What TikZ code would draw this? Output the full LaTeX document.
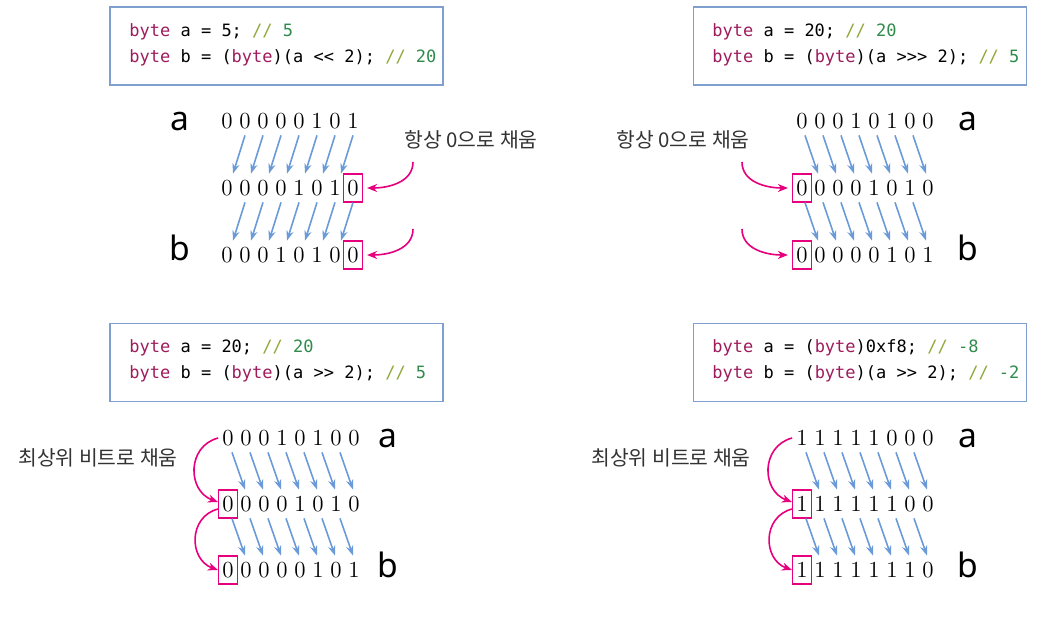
\documentclass[tikz,border=0pt]{standalone}
\usepackage{fontspec}
\newfontfamily\krfont{Noto Sans CJK KR}
\newfontfamily\codefont{DejaVu Sans Mono}
\newfontfamily\varfont{Noto Sans}
\usetikzlibrary{arrows.meta,calc,positioning}
\definecolor{boxblue}{HTML}{7F9FCF}
\definecolor{arrowblue}{HTML}{6A9BD8}
\definecolor{fillpink}{HTML}{E6007E}
\definecolor{kwred}{HTML}{9E1B5C}
\definecolor{cmgreen}{HTML}{2E8B4A}
\definecolor{slashgreen}{HTML}{8FA83A}
\newcommand{\kw}[1]{\textcolor{kwred}{#1}}
\newcommand{\cm}[1]{\textcolor{slashgreen}{//} \textcolor{cmgreen}{#1}}
\tikzset{
  codebox/.style={draw=boxblue,line width=0.7pt,minimum width=166.5pt,minimum height=39pt},
  codeline/.style={anchor=west,align=left,inner sep=0pt,font=\codefont\fontsize{8.5}{13}\selectfont},
  bit/.style={minimum width=9.5pt,minimum height=14pt,inner sep=0pt,font=\fontsize{11.5}{14}\selectfont},
  fillbox/.style={bit,draw=fillpink,line width=0.6pt},
  bitarrow/.style={draw=arrowblue,line width=0.8pt,-{Stealth[length=5pt,width=3.6pt]}},
  fillarrow/.style={draw=fillpink,line width=0.8pt,-{Stealth[length=5pt,width=4pt]}},
  varname/.style={anchor=base,font=\varfont\fontsize{16.8}{20}\selectfont},
  remark/.style={font=\krfont\fontsize{10.2}{12}\selectfont,text=black!80}
}

\begin{document}
\begin{tikzpicture}[x=0.5pt,y=-0.5pt]
  \useasboundingbox (0,0) rectangle (1057,630);

  % top left: a << 2
  \node[codebox] (tlbox) at (276.5,46) {};
  \node[codeline] (tlcode) at (129,45)
    {\kw{byte} a = 5; \cm{5}\\\kw{byte} b = (\kw{byte})(a << 2); \cm{20}};
  \node[varname] (tlvara) at (180,131) {a};
  \node[varname] (tlvarb) at (180,261) {b};
  \foreach \d [count=\i] in {0,0,0,0,0,1,0,1}
    \node[bit] (tla\i) at ({227+18*(\i-1)},121) {\d};
  \foreach \d [count=\i] in {0,0,0,0,1,0,1}
    \node[bit] (tlm\i) at ({227+18*(\i-1)},188) {\d};
  \node[fillbox] (tlm8) at (353,188) {0};
  \foreach \d [count=\i] in {0,0,0,1,0,1,0}
    \node[bit] (tlb\i) at ({227+18*(\i-1)},255) {\d};
  \node[fillbox] (tlb8) at (353,255) {0};
  \foreach \i [evaluate=\i as \j using int(\i+1)] in {1,...,7} {
    \draw[bitarrow] (tla\j.south) -- ($(tlm\i.north)+(6,0)$);
    \draw[bitarrow] (tlm\j.south) -- ($(tlb\i.north)+(6,0)$);
  }
  \node[remark] (tlnote) at (471,140) {항상 0으로 채움};
  \coordinate (tlc1) at (413,162);
  \coordinate (tlc2) at (413,229);
  \draw[fillarrow] (tlc1) to[out=-90,in=0] ([xshift=2pt]tlm8.east);
  \draw[fillarrow] (tlc2) to[out=-90,in=0] ([xshift=2pt]tlb8.east);

  % top right: a >>> 2
  \node[codebox] (trbox) at (860,46) {};
  \node[codeline] (trcode) at (712,45)
    {\kw{byte} a = 20; \cm{20}\\\kw{byte} b = (\kw{byte})(a >>> 2); \cm{5}};
  \node[varname] (trvara) at (968,131) {a};
  \node[varname] (trvarb) at (968,261) {b};
  \foreach \d [count=\i] in {0,0,0,1,0,1,0,0}
    \node[bit] (tra\i) at ({802+18*(\i-1)},121) {\d};
  \node[fillbox] (trm1) at (802,188) {0};
  \foreach \d [count=\i from 2] in {0,0,0,1,0,1,0}
    \node[bit] (trm\i) at ({802+18*(\i-1)},188) {\d};
  \node[fillbox] (trb1) at (802,255) {0};
  \foreach \d [count=\i from 2] in {0,0,0,0,1,0,1}
    \node[bit] (trb\i) at ({802+18*(\i-1)},255) {\d};
  \foreach \i [evaluate=\i as \j using int(\i+1)] in {1,...,7} {
    \draw[bitarrow] ($(tra\i.south)+(3,0)$) -- ($(trm\j.north)+(-2,0)$);
    \draw[bitarrow] ($(trm\i.south)+(3,0)$) -- ($(trb\j.north)+(-2,0)$);
  }
  \node[remark] (trnote) at (683,140) {항상 0으로 채움};
  \coordinate (trc1) at (742,162);
  \coordinate (trc2) at (742,229);
  \draw[fillarrow] (trc1) to[out=-90,in=180] ([xshift=-2pt]trm1.west);
  \draw[fillarrow] (trc2) to[out=-90,in=180] ([xshift=-2pt]trb1.west);

  % bottom left: a >> 2
  \node[codebox] (blbox) at (276.5,362.5) {};
  \node[codeline] (blcode) at (129,361)
    {\kw{byte} a = 20; \cm{20}\\\kw{byte} b = (\kw{byte})(a >> 2); \cm{5}};
  \node[varname] (blvara) at (388,448) {a};
  \node[varname] (blvarb) at (388,578) {b};
  \foreach \d [count=\i] in {0,0,0,1,0,1,0,0}
    \node[bit] (bla\i) at ({228+18*(\i-1)},438) {\d};
  \node[fillbox] (blm1) at (228,504) {0};
  \foreach \d [count=\i from 2] in {0,0,0,1,0,1,0}
    \node[bit] (blm\i) at ({228+18*(\i-1)},504) {\d};
  \node[fillbox] (blb1) at (228,570) {0};
  \foreach \d [count=\i from 2] in {0,0,0,0,1,0,1}
    \node[bit] (blb\i) at ({228+18*(\i-1)},570) {\d};
  \foreach \i [evaluate=\i as \j using int(\i+1)] in {1,...,7} {
    \draw[bitarrow] ($(bla\i.south)+(4,0)$) -- ($(blm\j.north)+(-1,0)$);
    \draw[bitarrow] ($(blm\i.south)+(4,0)$) -- ($(blb\j.north)+(-1,0)$);
  }
  \node[remark] (blnote) at (98,458) {최상위 비트로 채움};
  \draw[fillarrow] (bla1.west) to[out=195,in=160,looseness=1.3] ([yshift=1pt]blm1.west);
  \draw[fillarrow] ([yshift=-2.5pt]blm1.west) to[out=195,in=160,looseness=1.3] (blb1.west);

  % bottom right: negative a >> 2
  \node[codebox] (brbox) at (860,362.5) {};
  \node[codeline] (brcode) at (712,361)
    {\kw{byte} a = (\kw{byte})0xf8; \cm{-8}\\\kw{byte} b = (\kw{byte})(a >> 2); \cm{-2}};
  \node[varname] (brvara) at (968,448) {a};
  \node[varname] (brvarb) at (968,578) {b};
  \foreach \d [count=\i] in {1,1,1,1,1,0,0,0}
    \node[bit] (bra\i) at ({802+18*(\i-1)},438) {\d};
  \node[fillbox] (brm1) at (802,504) {1};
  \foreach \d [count=\i from 2] in {1,1,1,1,1,0,0}
    \node[bit] (brm\i) at ({802+18*(\i-1)},504) {\d};
  \node[fillbox] (brb1) at (802,570) {1};
  \foreach \d [count=\i from 2] in {1,1,1,1,1,1,0}
    \node[bit] (brb\i) at ({802+18*(\i-1)},570) {\d};
  \foreach \i [evaluate=\i as \j using int(\i+1)] in {1,...,7} {
    \draw[bitarrow] ($(bra\i.south)+(4,0)$) -- ($(brm\j.north)+(-1,0)$);
    \draw[bitarrow] ($(brm\i.south)+(4,0)$) -- ($(brb\j.north)+(-1,0)$);
  }
  \node[remark] (brnote) at (671,458) {최상위 비트로 채움};
  \draw[fillarrow] (bra1.west) to[out=195,in=160,looseness=1.3] ([yshift=1pt]brm1.west);
  \draw[fillarrow] ([yshift=-2.5pt]brm1.west) to[out=195,in=160,looseness=1.3] (brb1.west);
\end{tikzpicture}
\end{document}
